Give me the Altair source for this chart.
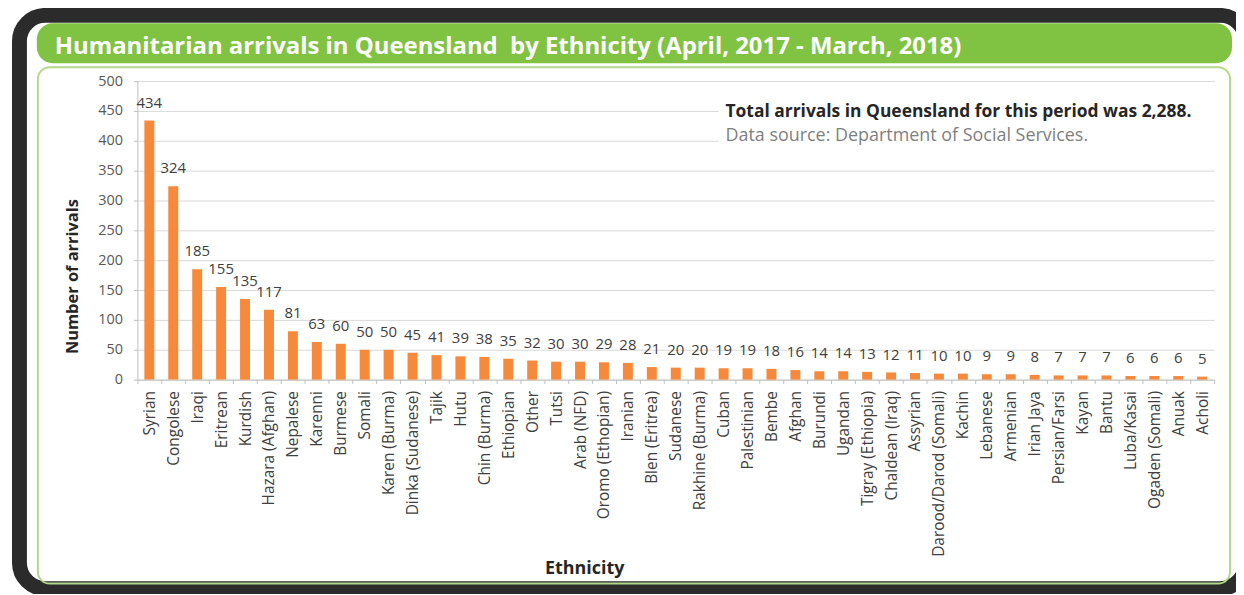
import altair as alt
import pandas as pd

categories = ["Syrian", "Congolese", "Iraqi", "Eritrean", "Kurdish", "Hazara (Afghan)", "Nepalese",
              "Karenni", "Burmese", "Somali", "Karen (Burma)", "Dinka (Sudanese)", "Tajik", "Hutu",
              "Chin (Burma)", "Ethiopian", "Other", "Tutsi", "Arab (NFD)", "Oromo (Ethopian)", "Iranian",
              "Blen (Eritrea)", "Sudanese", "Rakhine (Burma)", "Cuban", "Palestinian", "Bembe", "Afghan",
              "Burundi", "Ugandan", "Tigray (Ethiopia)", "Chaldean (Iraq)", "Assyrian",
              "Darood/Darod (Somali)", "Kachin", "Lebanese", "Armenian", "Irian Jaya", "Persian/Farsi",
              "Kayan", "Bantu", "Luba/Kasai", "Ogaden (Somali)", "Anuak", "Acholi"]
arrivals = [434, 324, 185, 155, 135, 117, 81, 63, 60, 50, 50, 45, 41, 39, 38, 35, 32, 30, 30, 29, 28,
            21, 20, 20, 19, 19, 18, 16, 14, 14, 13, 12, 11, 10, 10, 9, 9, 8, 7, 7, 7, 6, 6, 6, 5]
y_ticks = [0, 50, 100, 150, 200, 250, 300, 350, 400, 450, 500]

title_text = "Humanitarian arrivals in Queensland \u00a0by Ethnicity (April, 2017 - March, 2018)"
note_line1 = "Total arrivals in Queensland for this period was 2,288."
note_line2 = "Data source: Department of Social Services."

df = pd.DataFrame({"eth": categories, "val": arrivals})
one = alt.InlineData(values=[{"k": 1}])

FONT = "Open Sans"
W, H = 1082, 300

x_enc = alt.X("eth:N", sort=categories, title="Ethnicity",
              scale=alt.Scale(paddingInner=0, paddingOuter=0),
              axis=alt.Axis(labelAngle=-90, labelFont=FONT, labelFontSize=15.5, labelColor="#404040",
                            labelPadding=7, tickBand="extent", tickSize=4, tickColor="#bfbfbf",
                            domainColor="#bfbfbf", labelOverlap=False,
                            titleFont=FONT, titleFontSize=18, titleFontWeight="bold", titleColor="#262626",
                            titleX=449, titleY=195, titleAlign="center", titleBaseline="alphabetic"))
y_enc = alt.Y("val:Q", scale=alt.Scale(domain=[0, 500]), title="Number of arrivals",
              axis=alt.Axis(values=y_ticks, grid=True, gridColor="#d9d9d9", domainColor="#bfbfbf",
                            tickColor="#bfbfbf", tickSize=4, labelPadding=11, labelFont=FONT,
                            labelFontSize=14.5, labelColor="#595959", labelOverlap=False,
                            titleFont=FONT, titleFontSize=16.5, titleFontWeight="bold", titleColor="#262626",
                            titleAngle=270, titleX=-65, titleY=196, titleAlign="center",
                            titleBaseline="middle"))

frame = alt.Chart(one).mark_rect(fill="transparent", stroke="#2b2b2b", strokeWidth=15,
                                 cornerRadius=26).encode(
    x=alt.value(-118.5), x2=alt.value(1114), y=alt.value(-66), y2=alt.value(510))
panel = alt.Chart(one).mark_rect(fill="transparent", stroke="#b3d889", strokeWidth=2,
                                 cornerRadius=12).encode(
    x=alt.value(-100), x2=alt.value(1098), y=alt.value(-14), y2=alt.value(505))
bar_bg = alt.Chart(one).mark_rect(fill="#80c342", cornerRadius=16).encode(
    x=alt.value(-101), x2=alt.value(1100), y=alt.value(-58), y2=alt.value(-18))
title = alt.Chart(one).mark_text(text=title_text, align="left", baseline="alphabetic", font=FONT,
                                 fontSize=24, fontWeight="bold", color="white").encode(
    x=alt.value(-83), y=alt.value(-27))

bars = alt.Chart(df).mark_bar(size=10, color="#f6893b").encode(x=x_enc, y=y_enc)
labels = alt.Chart(df).mark_text(baseline="alphabetic", dy=-13, font=FONT, fontSize=15,
                                 color="#404040").encode(x=x_enc, y=y_enc, text="val:Q")

note_bg = alt.Chart(one).mark_rect(fill="white").encode(
    x=alt.value(584), x2=alt.value(1084), y=alt.value(19), y2=alt.value(67))
note1 = alt.Chart(one).mark_text(text=note_line1, align="left", baseline="alphabetic", font=FONT,
                                 fontSize=17.5, fontWeight="bold", color="#262626").encode(
    x=alt.value(591), y=alt.value(36))
note2 = alt.Chart(one).mark_text(text=note_line2, align="left", baseline="alphabetic", font=FONT,
                                 fontSize=18, color="#7f7f7f").encode(
    x=alt.value(591), y=alt.value(60))

chart = alt.layer(frame, panel, bar_bg, title, bars, labels, note_bg, note1, note2).properties(
    width=W, height=H,
    autosize=alt.AutoSizeParams(type="none"),
    padding={"left": 130, "top": 72, "right": 22, "bottom": 214},
).configure_view(strokeWidth=0)

chart.save("out.html", embed_options={"renderer": "svg", "actions": False})
